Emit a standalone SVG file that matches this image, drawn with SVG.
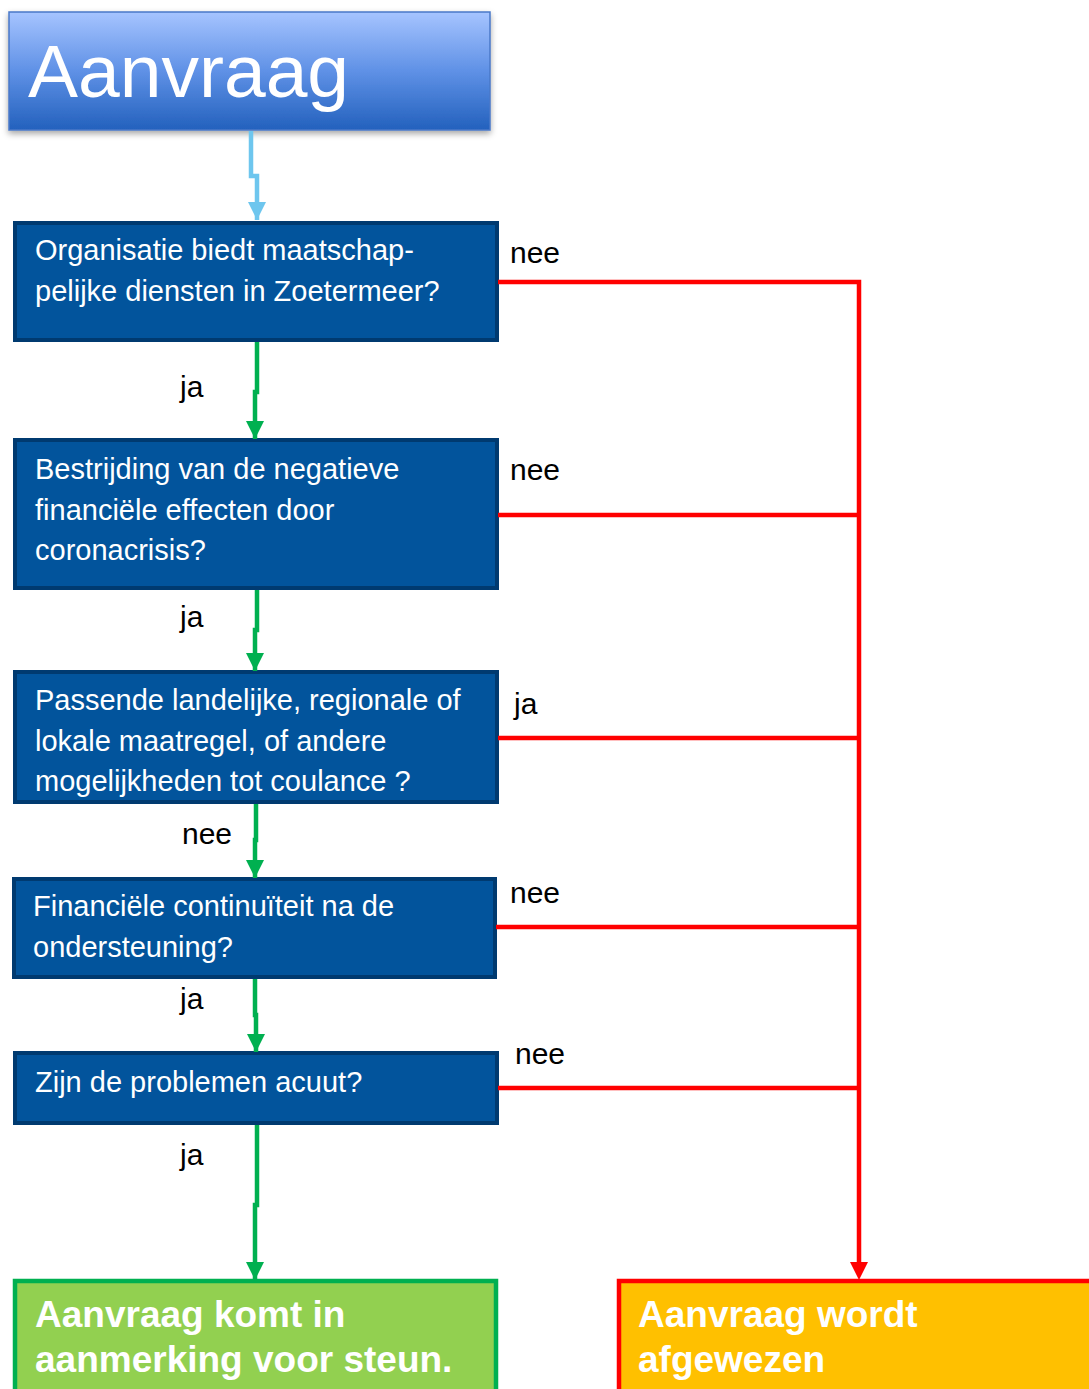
<svg xmlns="http://www.w3.org/2000/svg" width="1089" height="1389" viewBox="0 0 1089 1389">
<defs>
<linearGradient id="g" x1="0" y1="0" x2="0" y2="1">
<stop offset="0" stop-color="#a6c4ff"/>
<stop offset="0.5" stop-color="#5f91e6"/>
<stop offset="1" stop-color="#2361bd"/>
</linearGradient>
<filter id="sh" x="-5%" y="-10%" width="110%" height="125%">
<feDropShadow dx="0" dy="3" stdDeviation="3" flood-color="#000" flood-opacity="0.35"/>
</filter>
<marker id="mg" viewBox="0 0 10 10" refX="10" refY="5" markerWidth="18" markerHeight="18" markerUnits="userSpaceOnUse" orient="auto"><path d="M0,0 L10,5 L0,10 z" fill="#00B050"/></marker>
<marker id="mb" viewBox="0 0 10 10" refX="10" refY="5" markerWidth="18" markerHeight="20" markerUnits="userSpaceOnUse" orient="auto"><path d="M0,0 L10,5 L0,10 z" fill="#6EC6EE"/></marker>
</defs>
<style>
.q{fill:#02549C;stroke:#003A70;stroke-width:4}
.qt{font-family:"Liberation Sans",Arial,sans-serif;font-size:29px;fill:#fff}
.lb{font-family:"Liberation Sans",Arial,sans-serif;font-size:30px;fill:#000}
.bt{font-family:"Liberation Sans",Arial,sans-serif;font-size:37px;font-weight:bold;fill:#fff}
.gr{fill:none;stroke:#00B050;stroke-width:4.5;marker-end:url(#mg)}
.rd{fill:none;stroke:#FF0000;stroke-width:4.5}
</style>
<rect width="1089" height="1389" fill="#fff"/>

<g id="aanvraag">
<rect x="9" y="12" width="481" height="118" fill="url(#g)" stroke="#4a78c8" stroke-width="1.5" filter="url(#sh)"/>
<text x="28" y="97" font-family="'Liberation Sans',Arial,sans-serif" font-size="75" fill="#fff">Aanvraag</text>
</g>

<g id="q1">
<rect class="q" x="15" y="223" width="482" height="117"/>
<text class="qt" x="35" y="260">Organisatie biedt maatschap-</text>
<text class="qt" x="35" y="301">pelijke diensten in Zoetermeer?</text>
</g>
<g id="q2">
<rect class="q" x="15" y="440" width="482" height="148"/>
<text class="qt" x="35" y="479">Bestrijding van de negatieve</text>
<text class="qt" x="35" y="520">financiële effecten door</text>
<text class="qt" x="35" y="560">coronacrisis?</text>
</g>
<g id="q3">
<rect class="q" x="15" y="672" width="482" height="130"/>
<text class="qt" x="35" y="710">Passende landelijke, regionale of</text>
<text class="qt" x="35" y="751">lokale maatregel, of andere</text>
<text class="qt" x="35" y="791">mogelijkheden tot coulance ?</text>
</g>
<g id="q4">
<rect class="q" x="14" y="879" width="481" height="98"/>
<text class="qt" x="33" y="916">Financiële continuïteit na de</text>
<text class="qt" x="33" y="957">ondersteuning?</text>
</g>
<g id="q5">
<rect class="q" x="15" y="1053" width="482" height="70"/>
<text class="qt" x="35" y="1092">Zijn de problemen acuut?</text>
</g>
<g id="yes">
<rect x="15" y="1281" width="481" height="120" fill="#92D050" stroke="#00B050" stroke-width="4.5"/>
<text class="bt" x="35" y="1327">Aanvraag komt in</text>
<text class="bt" x="35" y="1372">aanmerking voor steun.</text>
</g>
<g id="no">
<rect x="619" y="1281" width="480" height="120" fill="#FFC000" stroke="#FF0000" stroke-width="4.5"/>
<text class="bt" x="638" y="1327">Aanvraag wordt</text>
<text class="bt" x="638" y="1372">afgewezen</text>
</g>

<g id="connectors">
<path d="M251,131 V176 H257 V220" fill="none" stroke="#6EC6EE" stroke-width="4.5" marker-end="url(#mb)"/>
<path class="gr" d="M257,342 V392 H255 V439"/>
<path class="gr" d="M257,590 V630 H255 V671"/>
<path class="gr" d="M256,804 V840 H255 V878"/>
<path class="gr" d="M255,979 V1015 H256 V1052"/>
<path class="gr" d="M257,1125 V1205 H255 V1280"/>
<path class="rd" d="M498,282 H859 V1262"/>
<path d="M850,1262 L868,1262 L859,1280 z" fill="#FF0000"/>
<path class="rd" d="M498,515 H859"/>
<path class="rd" d="M498,738 H859"/>
<path class="rd" d="M496,927 H859"/>
<path class="rd" d="M498,1088 H859"/>
<text class="lb" x="510" y="263">nee</text>
<text class="lb" x="510" y="480">nee</text>
<text class="lb" x="514" y="714">ja</text>
<text class="lb" x="510" y="903">nee</text>
<text class="lb" x="515" y="1064">nee</text>
<text class="lb" x="180" y="397">ja</text>
<text class="lb" x="180" y="627">ja</text>
<text class="lb" x="182" y="844">nee</text>
<text class="lb" x="180" y="1009">ja</text>
<text class="lb" x="180" y="1165">ja</text>
</g>
</svg>
